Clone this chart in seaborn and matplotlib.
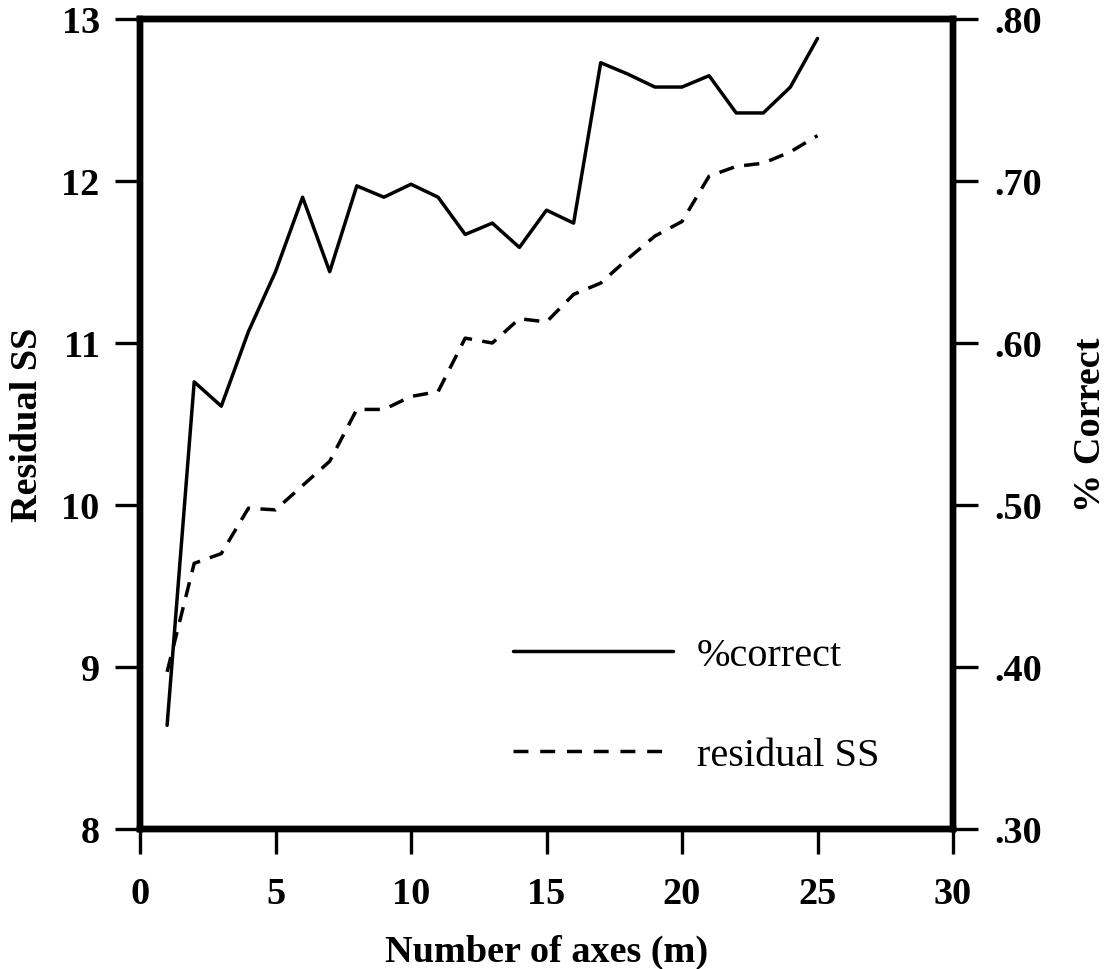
import matplotlib
matplotlib.use("Agg")
import matplotlib.pyplot as plt
import pandas as pd
import seaborn as sns
from matplotlib.lines import Line2D

# Number of axes in the solution
n_axes = list(range(1, 26))
# Proportion classified correctly (right axis)
pct_correct = [0.364, 0.576, 0.561, 0.607, 0.644, 0.690, 0.644, 0.697, 0.690, 0.698,
               0.690, 0.667, 0.674, 0.659, 0.682, 0.674, 0.773, 0.766, 0.758, 0.758,
               0.765, 0.742, 0.742, 0.758, 0.788]
# Residual sum of squares (left axis)
residual_ss = [8.97, 9.64, 9.70, 9.98, 9.97, 10.12, 10.27, 10.59, 10.59, 10.67,
               10.70, 11.03, 11.00, 11.15, 11.13, 11.30, 11.37, 11.52, 11.66, 11.75,
               12.03, 12.09, 12.11, 12.18, 12.28]

x_ticks = [0, 5, 10, 15, 20, 25, 30]
left_ticks = [8, 9, 10, 11, 12, 13]
right_ticks = [0.30, 0.40, 0.50, 0.60, 0.70, 0.80]
right_labels = [".30", ".40", ".50", ".60", ".70", ".80"]

sns.set_style("ticks")
plt.rcParams["font.family"] = ["Liberation Serif", "DejaVu Serif"]
plt.rcParams.update({"text.color": "black", "axes.labelcolor": "black",
                     "xtick.color": "black", "ytick.color": "black"})

df = pd.DataFrame({"m": n_axes, "pct": pct_correct, "rss": residual_ss})

W, H = 1112, 970
fig = plt.figure(figsize=(W / 100, H / 100), dpi=100)
ax = fig.add_axes([140 / W, 1 - 830 / H, (953 - 140) / W, (830 - 20) / H])
ax2 = ax.twinx()

lw = 2.5
dash = (0, (4.4, 3.0))
sns.lineplot(data=df, x="m", y="rss", ax=ax, color="black", lw=lw, linestyle=dash)
sns.lineplot(data=df, x="m", y="pct", ax=ax2, color="black", lw=lw)

ax.set_xlim(0, 30)
ax.set_ylim(8, 13)
ax2.set_ylim(0.30, 0.80)
ax.set_xticks(x_ticks)
ax.set_yticks(left_ticks)
ax2.set_yticks(right_ticks)
ax2.set_yticklabels(right_labels)

tick_fs = 27.5
for a in (ax, ax2):
    for s in a.spines.values():
        s.set_linewidth(4.6)
        s.set_color("black")
    a.tick_params(axis="both", direction="out", length=18, width=2.4,
                  labelsize=tick_fs, colors="black")
    for lab in a.get_xticklabels() + a.get_yticklabels():
        lab.set_fontweight("bold")
ax.tick_params(axis="x", pad=16)
ax.tick_params(axis="y", pad=11)
ax2.tick_params(axis="y", pad=12)

label_fs = 27.5
ax.set_xlabel("Number of axes (m)", fontsize=label_fs, fontweight="bold", labelpad=16)
ax.set_ylabel("Residual SS", fontsize=label_fs, fontweight="bold", labelpad=12)
ax2.set_ylabel("% Correct", fontsize=label_fs, fontweight="bold", labelpad=22)

handles = [Line2D([], [], color="black", lw=lw),
           Line2D([], [], color="black", lw=lw, linestyle=(0, (4.3, 3.4)))]
leg = ax.legend(handles, ["%correct", "residual SS"], loc="upper left",
                bbox_to_anchor=(513 / W, 1 - 638 / H), bbox_transform=fig.transFigure,
                frameon=False, fontsize=29, handlelength=3.97, handletextpad=0.6,
                labelspacing=1.55, borderpad=0, borderaxespad=0)

fig.savefig("out.png", dpi=100, facecolor="white")
